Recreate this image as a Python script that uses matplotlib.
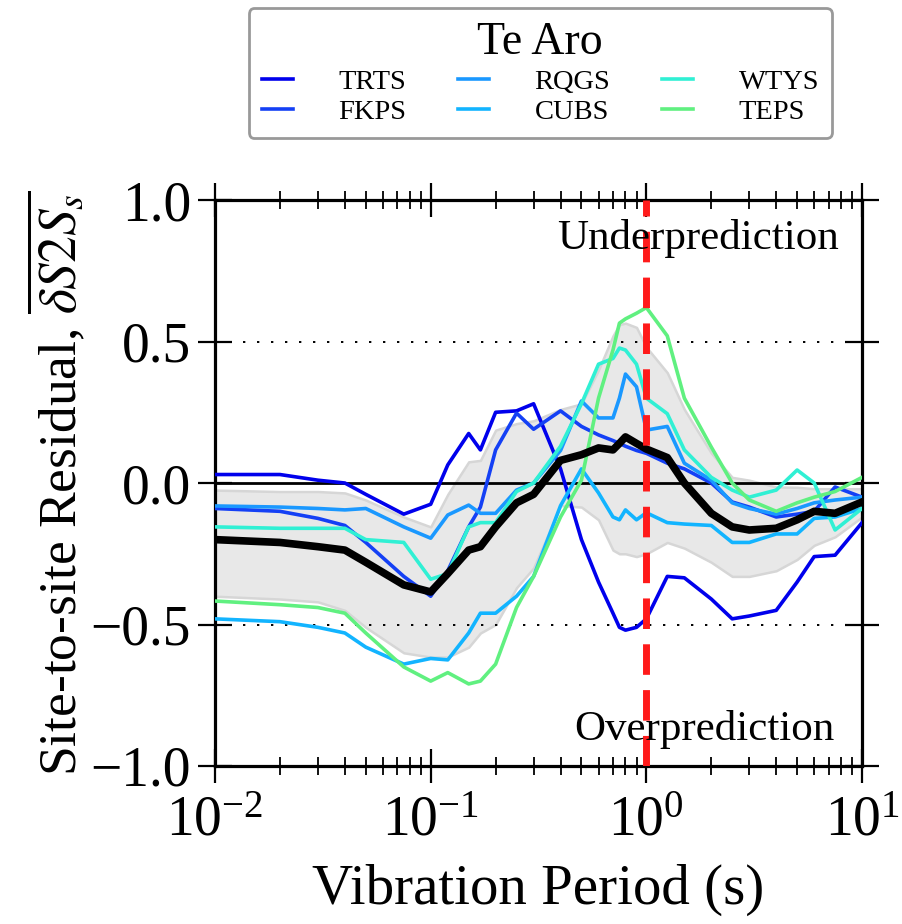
import numpy as np
import matplotlib
matplotlib.use("Agg")
import matplotlib.pyplot as plt

plt.rcParams['font.family'] = ['Liberation Serif', 'DejaVu Serif']
plt.rcParams['mathtext.fontset'] = 'stix'
plt.rcParams['axes.unicode_minus'] = True

periods = [0.01, 0.02, 0.03, 0.04, 0.05, 0.075, 0.1, 0.12, 0.15, 0.17, 0.2, 0.25, 0.3,
           0.4, 0.5, 0.6, 0.7, 0.75, 0.8, 0.9, 1.0, 1.25, 1.5, 2.0, 2.5, 3.0, 4.0, 5.0,
           6.0, 7.5, 10.0]

site_names = ['TRTS', 'FKPS', 'RQGS', 'CUBS', 'WTYS', 'TEPS']
site_colors = ['#0000ec', '#1440f5', '#1a98ff', '#12b4ff', '#30f0d4', '#60f080']

trts = [0.03, 0.03, 0.01, 0.0, -0.04, -0.11, -0.075, 0.064, 0.175, 0.117, 0.25, 0.255, 0.28,
        0.05, -0.2, -0.35, -0.46, -0.51, -0.52, -0.51, -0.48, -0.33, -0.335, -0.41, -0.48,
        -0.47, -0.45, -0.35, -0.26, -0.255, -0.14]
fkps = [-0.09, -0.10, -0.125, -0.15, -0.21, -0.33, -0.40, -0.31, -0.155, -0.085, 0.117, 0.247,
        0.19, 0.255, 0.2, 0.17, 0.15, 0.14, 0.13, 0.115, 0.105, 0.07, 0.05, 0.0, -0.067,
        -0.085, -0.12, -0.11, -0.10, -0.014, -0.05]
rqgs = [-0.081, -0.085, -0.09, -0.095, -0.09, -0.155, -0.195, -0.113, -0.078, -0.107, -0.107,
        -0.025, 0.0, 0.115, 0.29, 0.23, 0.23, 0.30, 0.385, 0.34, 0.187, 0.2, 0.07, 0.01, -0.07,
        -0.09, -0.11, -0.09, -0.07, -0.06, -0.05]
cubs = [-0.48, -0.49, -0.51, -0.53, -0.58, -0.64, -0.62, -0.625, -0.53, -0.46, -0.46, -0.40,
        -0.33, -0.08, 0.05, -0.035, -0.12, -0.13, -0.095, -0.13, -0.105, -0.14, -0.145, -0.15,
        -0.21, -0.21, -0.18, -0.18, -0.125, -0.12, -0.09]
wtys = [-0.155, -0.16, -0.16, -0.16, -0.20, -0.21, -0.34, -0.32, -0.155, -0.14, -0.14, -0.03,
        0.0, 0.13, 0.28, 0.42, 0.44, 0.477, 0.47, 0.42, 0.30, 0.245, 0.117, 0.02, -0.025,
        -0.05, -0.025, 0.046, 0.0, -0.166, -0.09]
teps = [-0.417, -0.43, -0.44, -0.46, -0.53, -0.65, -0.70, -0.67, -0.71, -0.70, -0.64, -0.44,
        -0.33, -0.12, 0.01, 0.30, 0.47, 0.565, 0.58, 0.60, 0.62, 0.52, 0.30, 0.127, 0.0,
        -0.06, -0.10, -0.07, -0.05, -0.03, 0.02]

mean_res = [-0.20, -0.21, -0.225, -0.237, -0.28, -0.36, -0.385, -0.32, -0.237, -0.225, -0.155,
            -0.07, -0.04, 0.08, 0.10, 0.124, 0.117, 0.14, 0.163, 0.14, 0.12, 0.09, 0.0, -0.107,
            -0.155, -0.166, -0.16, -0.13, -0.10, -0.107, -0.067]
band_upper = [-0.025, -0.03, -0.03, -0.035, -0.06, -0.12, -0.155, -0.04, 0.075, 0.08, 0.187,
              0.21, 0.22, 0.26, 0.28, 0.40, 0.52, 0.56, 0.565, 0.55, 0.48, 0.39, 0.26, 0.106,
              0.02, 0.01, -0.014, -0.015, -0.02, -0.02, -0.02]
band_lower = [-0.40, -0.41, -0.42, -0.45, -0.51, -0.60, -0.615, -0.615, -0.58, -0.53, -0.50,
              -0.37, -0.30, -0.08, -0.085, -0.13, -0.237, -0.25, -0.25, -0.26, -0.25, -0.21,
              -0.23, -0.28, -0.33, -0.33, -0.31, -0.27, -0.22, -0.19, -0.12]

site_values = [trts, fkps, rqgs, cubs, wtys, teps]

fig = plt.figure(figsize=(9.02, 9.24), dpi=100)
ax = fig.add_axes([0.2384, 0.1710, 0.7173, 0.6125])

ax.fill_between(periods, band_lower, band_upper, facecolor='#e8e8e8',
                edgecolor='#d6d6d6', linewidth=1.8, zorder=1)
ax.axhline(0.0, color='black', lw=2.0, zorder=2)
for yv in (0.5, -0.5):
    ax.axhline(yv, color='black', lw=1.4, ls=(0, (1.2, 6)), zorder=2)

handles = []
for name, col, vals in zip(site_names, site_colors, site_values):
    h, = ax.plot(periods, vals, color=col, lw=2.6, label=name, zorder=3)
    handles.append(h)

ax.plot(periods, mean_res, color='black', lw=5.5, zorder=4)
ax.axvline(1.0, color='#ff1a1a', lw=5, ls=(0, (4.4, 2.2)), zorder=5)

ax.set_xscale('log')
ax.set_xlim(0.01, 10)
ax.set_ylim(-1.0, 1.0)
ax.set_yticks([-1.0, -0.5, 0.0, 0.5, 1.0])
ax.set_yticklabels(['\u22121.0', '\u22120.5', '0.0', '0.5', '1.0'])

ax.tick_params(which='major', direction='inout', length=24.5, width=1.6,
               top=True, right=True, labelsize=40, pad=5)
ax.tick_params(axis='x', which='major', pad=9)
ax.tick_params(which='minor', direction='inout', length=12.5, width=1.3,
               top=True, right=True)
for sp in ax.spines.values():
    sp.set_linewidth(2.3)

ax.text(1.73, 0.865, 'Underprediction', fontsize=31, ha='center', va='center', zorder=6)
ax.text(1.85, -0.87, 'Overprediction', fontsize=31, ha='center', va='center', zorder=6)

ax.set_xlabel('Vibration Period (s)', fontsize=41, labelpad=12)
ax.set_ylabel(r'Site-to-site Residual, $\overline{\delta S2S_s}$', fontsize=38.5, labelpad=2)

leg = fig.legend(handles=handles, labels=site_names, loc='upper center',
                 bbox_to_anchor=(0.599, 0.991), ncol=3, fontsize=20.5,
                 title='Te Aro', title_fontsize=33, frameon=True, fancybox=True,
                 handlelength=1.1, handletextpad=1.6, columnspacing=1.8,
                 labelspacing=0.15, borderpad=0.45, borderaxespad=0.0)
leg.get_frame().set_edgecolor('#808080')
leg.get_frame().set_linewidth(2.0)
leg._legend_box.sep = 4

fig.savefig('out.png', dpi=100)
